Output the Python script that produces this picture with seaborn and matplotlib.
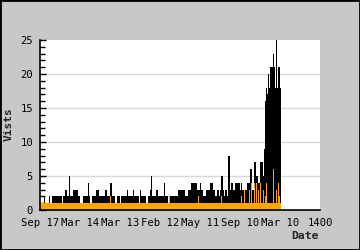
import numpy as np
import pandas as pd
import matplotlib
matplotlib.use("Agg")
import matplotlib.pyplot as plt
from matplotlib.patches import Rectangle
from matplotlib.ticker import MultipleLocator
import seaborn as sns

tick_labels = ["Sep 17", "Mar 14", "Mar 13", "Feb 12", "May 11", "Sep 10", "Mar 10", "1400"]
tick_pos = [0, 40, 80, 120, 160, 200, 240, 280]

total = [
    1, 1, 1, 1, 2, 1, 1, 1, 1, 2,
    1, 1, 2, 2, 2, 2, 2, 2, 2, 2,
    2, 2, 1, 2, 2, 3, 3, 2, 2, 5,
    2, 2, 2, 3, 3, 3, 3, 3, 2, 2,
    1, 1, 1, 2, 2, 2, 2, 2, 4, 2,
    1, 1, 2, 2, 2, 2, 3, 3, 3, 2,
    2, 2, 2, 2, 2, 3, 3, 2, 2, 2,
    4, 4, 2, 2, 2, 1, 1, 2, 2, 2,
    1, 2, 2, 2, 2, 2, 2, 3, 2, 2,
    2, 2, 2, 3, 2, 2, 2, 2, 2, 1,
    3, 2, 2, 2, 2, 2, 1, 1, 2, 2,
    3, 5, 2, 2, 2, 2, 3, 3, 2, 2,
    2, 2, 2, 2, 4, 2, 2, 2, 1, 2,
    2, 2, 2, 2, 2, 2, 2, 2, 3, 3,
    3, 3, 3, 3, 3, 2, 2, 2, 3, 3,
    3, 4, 4, 4, 4, 4, 4, 3, 3, 3,
    4, 3, 3, 2, 2, 2, 3, 3, 3, 3,
    4, 4, 4, 3, 3, 2, 2, 3, 3, 2,
    3, 5, 5, 3, 2, 3, 3, 2, 8, 8,
    3, 4, 4, 3, 3, 4, 4, 4, 4, 4,
    3, 4, 3, 3, 3, 3, 3, 4, 4, 4,
    6, 6, 3, 3, 7, 7, 5, 5, 4, 4,
    7, 7, 7, 5, 9, 16, 18, 17, 20, 18,
    21, 21, 21, 23, 21, 18, 25, 18, 21, 21,
    18,
]

subset = [
    1, 1, 1, 1, 1, 1, 1, 1, 1, 1,
    1, 1, 1, 1, 1, 1, 1, 1, 1, 1,
    1, 1, 1, 1, 1, 1, 1, 1, 1, 1,
    1, 1, 1, 1, 1, 1, 1, 1, 1, 1,
    1, 1, 1, 1, 1, 1, 1, 1, 1, 1,
    1, 1, 1, 1, 1, 1, 1, 1, 1, 1,
    1, 1, 1, 1, 1, 1, 1, 1, 1, 1,
    2, 1, 1, 1, 1, 1, 1, 1, 1, 1,
    1, 1, 1, 1, 1, 1, 1, 1, 1, 1,
    1, 1, 1, 1, 1, 1, 1, 1, 1, 1,
    1, 1, 1, 1, 1, 1, 1, 1, 1, 1,
    1, 1, 1, 1, 1, 1, 1, 1, 1, 1,
    1, 1, 1, 1, 1, 1, 1, 1, 1, 2,
    1, 1, 1, 1, 1, 1, 1, 1, 1, 1,
    1, 1, 1, 1, 1, 1, 1, 1, 1, 1,
    1, 1, 1, 1, 1, 1, 1, 1, 2, 1,
    1, 1, 1, 1, 1, 1, 1, 1, 1, 1,
    1, 1, 1, 1, 1, 1, 1, 1, 1, 1,
    1, 2, 1, 1, 1, 1, 1, 1, 1, 1,
    1, 1, 1, 1, 1, 1, 1, 1, 1, 1,
    1, 2, 1, 1, 3, 1, 1, 1, 1, 3,
    1, 4, 1, 1, 4, 1, 4, 1, 3, 1,
    4, 1, 1, 3, 1, 2, 4, 1, 1, 1,
    1, 1, 1, 6, 1, 1, 3, 1, 4, 2,
    1,
]

sns.set_style("white")
plt.rcParams["font.family"] = ["DejaVu Sans Mono", "DejaVu Sans"]

df = pd.DataFrame({
    "day": np.arange(len(total)) + 0.5,
    "total": total,
    "subset": subset,
})

fig = plt.figure(figsize=(3.6, 2.5), dpi=100, facecolor="#c8c8c8")
ax = fig.add_axes([40 / 360, 40 / 250, 280 / 360, 170 / 250])
ax.set_facecolor("white")

sns.barplot(data=df, x="day", y="total", native_scale=True, width=1,
            color="black", saturation=1, linewidth=0, errorbar=None, ax=ax)
sns.barplot(data=df, x="day", y="subset", native_scale=True, width=1,
            color="#ffa500", saturation=1, linewidth=0, errorbar=None, ax=ax)

for y in [5, 10, 15, 20]:
    ax.axhline(y, color="#d8d8d8", lw=1, zorder=0.5)

ax.set_xlim(0, 280)
ax.set_ylim(0, 25)
ax.set_xticks(tick_pos)
ax.set_xticklabels(tick_labels)
ax.set_yticks(range(0, 26, 5))
ax.yaxis.set_minor_locator(MultipleLocator(1))
ax.set_xlabel("")
ax.set_ylabel("")

ax.tick_params(axis="x", which="major", direction="in", length=5, width=1,
               colors="black", labelsize=7.6, pad=5.5, top=False)
ax.tick_params(axis="y", which="major", direction="in", length=4.5, width=1,
               colors="black", labelsize=7.6, pad=5, right=False, left=True)
ax.tick_params(axis="y", which="minor", direction="in", length=3.5, width=1,
               colors="black", right=False, left=True)
ax.tick_params(axis="x", which="minor", bottom=False, top=False)

for s in ["top", "right"]:
    ax.spines[s].set_visible(False)
for s in ["left", "bottom"]:
    ax.spines[s].set_color("black")
    ax.spines[s].set_linewidth(1.2)

fig.text(9 / 360, 1 - 124 / 250, "Vists", rotation=90, ha="center", va="center",
         fontsize=8, fontweight="bold")
fig.text(319 / 360, 1 - 236 / 250, "Date", ha="right", va="center",
         fontsize=8.2, fontweight="bold")

fig.patches.append(Rectangle((0, 0), 1, 1, transform=fig.transFigure, fill=False,
                             edgecolor="black", linewidth=2))

fig.savefig("out.png", dpi=100, facecolor=fig.get_facecolor())
